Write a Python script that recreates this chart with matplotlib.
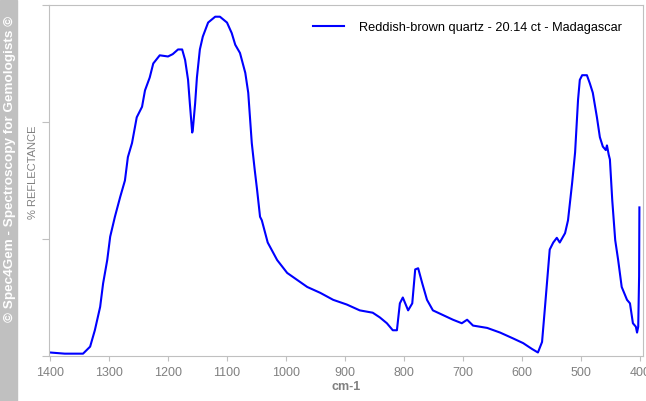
import numpy as np
import matplotlib.pyplot as plt

# spectrum (wavenumber cm-1, reflectance, arbitrary units)
wavenumber = [1400, 1375, 1344, 1332, 1324, 1315, 1310, 1303, 1298, 1290, 1281, 1273,
              1268, 1261, 1253, 1244, 1239, 1231, 1225, 1214, 1200, 1192, 1183, 1176,
              1171, 1166, 1163, 1159, 1158, 1154, 1151, 1146, 1141, 1132, 1120, 1112,
              1100, 1092, 1086, 1078, 1069, 1064, 1058, 1053, 1049, 1044, 1041, 1031,
              1015, 998, 981, 964, 942, 920, 897, 875, 853, 841, 829, 819, 812, 807,
              802, 793, 786, 781, 776, 769, 761, 751, 734, 717, 702, 693, 683, 659,
              637, 615, 598, 583, 573, 566, 561, 553, 547, 541, 536, 527, 522, 515,
              510, 505, 502, 498, 490, 485, 480, 473, 468, 463, 458, 456, 453, 451,
              447, 442, 437, 431, 422, 417, 412, 407, 405, 403, 401.5, 401]
reflectance = [0.03, 0.02, 0.02, 0.08, 0.22, 0.42, 0.62, 0.82, 1.02, 1.19, 1.36, 1.50,
               1.70, 1.82, 2.04, 2.13, 2.27, 2.38, 2.50, 2.57, 2.56, 2.58, 2.62, 2.62,
               2.53, 2.36, 2.16, 1.91, 1.93, 2.16, 2.38, 2.62, 2.73, 2.85, 2.90, 2.90,
               2.85, 2.76, 2.66, 2.59, 2.42, 2.25, 1.82, 1.59, 1.42, 1.19, 1.16, 0.97,
               0.82, 0.71, 0.65, 0.59, 0.54, 0.48, 0.44, 0.39, 0.37, 0.33, 0.28, 0.22,
               0.22, 0.45, 0.50, 0.39, 0.45, 0.74, 0.75, 0.62, 0.48, 0.39, 0.35, 0.31,
               0.28, 0.31, 0.26, 0.24, 0.20, 0.15, 0.11, 0.06, 0.03, 0.12, 0.42, 0.91,
               0.97, 1.01, 0.97, 1.05, 1.16, 1.48, 1.74, 2.19, 2.36, 2.40, 2.40, 2.33,
               2.25, 2.04, 1.87, 1.79, 1.76, 1.80, 1.72, 1.68, 1.33, 0.99, 0.82, 0.59,
               0.48, 0.45, 0.28, 0.25, 0.20, 0.25, 0.68, 1.27]
legend_label = 'Reddish-brown quartz - 20.14 ct - Madagascar'
xtick_values = [1400, 1300, 1200, 1100, 1000, 900, 800, 700, 600, 500, 400]

plt.rcParams['font.family'] = ['Liberation Sans', 'DejaVu Sans']
grey = '#c0c0c0'
text_grey = '#808080'

fig = plt.figure(figsize=(6.46, 4.01), dpi=100)
ax = fig.add_axes([49/646, 1-356/401, 594/646, 351/401])

# copyright strip on the left
fig.patches.append(plt.Rectangle((0, 0), 17/646, 1, transform=fig.transFigure,
                                 color='#c0c0c0', zorder=0))
fig.text(10/646, 1-169/401, '© Spec4Gem - Spectroscopy for Gemologists ©', rotation=90,
         color='white', fontsize=9.7, fontweight='bold', ha='center', va='center')

ax.plot(wavenumber, reflectance, color='#0000ff', lw=1.5, label=legend_label)
ax.set_xlim(1401.7, 394.9)
ax.set_ylim(0, 3)
ax.set_xticks(xtick_values)
ax.set_yticks([0, 1, 2, 3])
ax.set_yticklabels([])

for s in ax.spines.values():
    s.set_color(grey)
ax.tick_params(axis='x', colors=grey, labelcolor=text_grey, labelsize=9, length=3.6, pad=4)
ax.tick_params(axis='y', colors=grey, length=5)

ax.set_xlabel('cm-1', color=text_grey, fontsize=9, fontweight='bold', labelpad=2)
ax.set_ylabel('% REFLECTANCE', color=text_grey, fontsize=8)
ax.yaxis.set_label_coords(-11/594, (356-172)/351)

ax.legend(loc='upper right', frameon=False, fontsize=9.2, handlelength=2.5,
          borderaxespad=0.9, handletextpad=1.1, bbox_to_anchor=(1-5/594, 1))

plt.savefig('out.png', dpi=100)
